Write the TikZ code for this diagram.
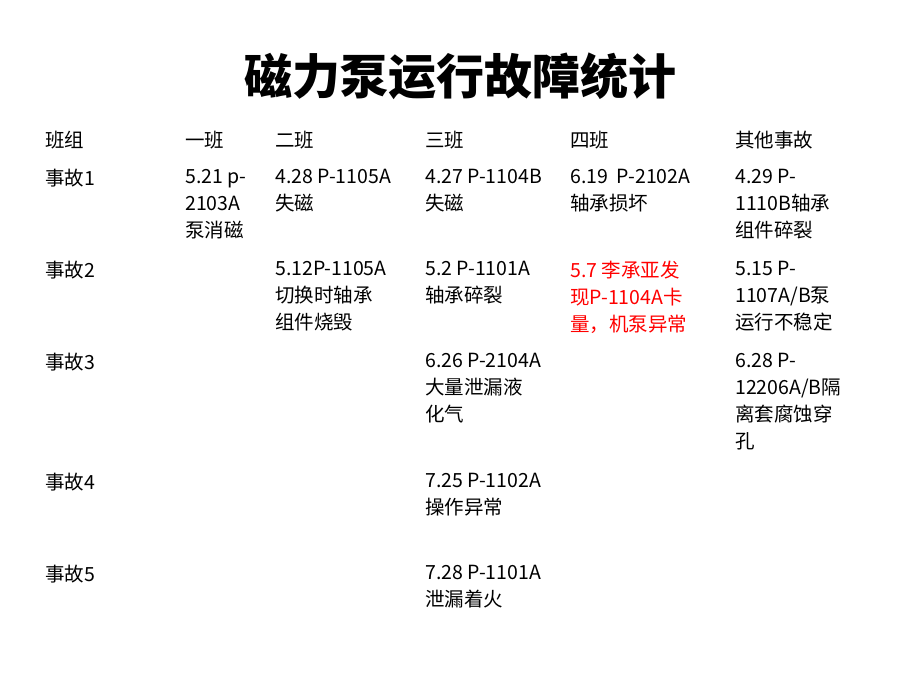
\documentclass[tikz,border=0pt]{standalone}
\usepackage{fontspec}
\setmainfont{Carlito}
\newfontfamily\cjk{Noto Sans CJK SC}
\usetikzlibrary{positioning}
\tikzset{
  cell/.style={anchor=north west,align=left,inner sep=0pt,
    font=\cjk\fontsize{19.5pt}{27pt}\selectfont},
  hot/.style={cell,text=red}
}
\begin{document}
\begin{tikzpicture}[x=1pt,y=-1pt]
\useasboundingbox (0,0) rectangle (920,690);
\node[font=\cjk\bfseries\fontsize{48pt}{52pt}\selectfont] (title) at (460,76) {磁力泵运行故障统计};
% header
\node[cell] (h0) at (45,131) {班组};
\node[cell] (h1) at (185,131) {一班};
\node[cell] (h2) at (275,131) {二班};
\node[cell] (h3) at (425,131) {三班};
\node[cell] (h4) at (570,131) {四班};
\node[cell] (h5) at (735,131) {其他事故};
% row 1
\node[cell] (r1) at (45,169) {事故1};
\node[cell] (a11) at (185,169) {5.21 p-\\2103A\\泵消磁};
\node[cell] (a12) at (275,169) {4.28 P-1105A\\失磁};
\node[cell] (a13) at (425,169) {4.27 P-1104B\\失磁};
\node[cell] (a14) at (570,169) {6.19 \ P-2102A\\轴承损坏};
\node[cell] (a15) at (735,169) {4.29 P-\\1110B轴承\\组件碎裂};
% row 2
\node[cell] (r2) at (45,261) {事故2};
\node[cell] (a22) at (275,261) {5.12P-1105A\\切换时轴承\\组件烧毁};
\node[cell] (a23) at (425,261) {5.2 P-1101A\\轴承碎裂};
\node[hot] (a24) at (570,261) {5.7 李承亚发\\现P-1104A卡\\量，机泵异常};
\node[cell] (a25) at (735,261) {5.15 P-\\1107A/B泵\\运行不稳定};
% row 3
\node[cell] (r3) at (45,353) {事故3};
\node[cell] (a33) at (425,353) {6.26 P-2104A\\大量泄漏液\\化气};
\node[cell] (a35) at (735,353) {6.28 P-\\12206A/B隔\\离套腐蚀穿\\孔};
% row 4
\node[cell] (r4) at (45,473) {事故4};
\node[cell] (a43) at (425,473) {7.25 P-1102A\\操作异常};
% row 5
\node[cell] (r5) at (45,565) {事故5};
\node[cell] (a53) at (425,565) {7.28 P-1101A\\泄漏着火};
\end{tikzpicture}
\end{document}
